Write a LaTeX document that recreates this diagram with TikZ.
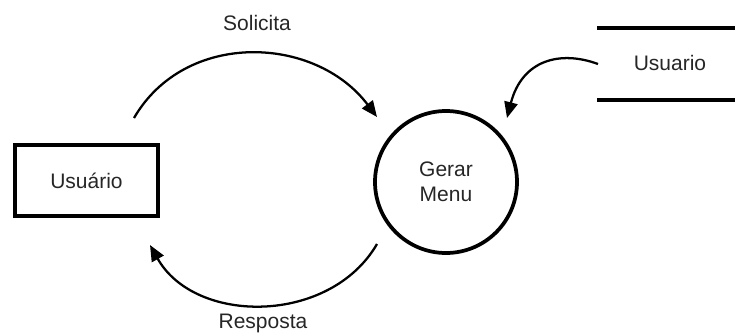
\documentclass[tikz,border=0pt]{standalone}
\usepackage{fontspec}
\setmainfont{Liberation Sans}
\usetikzlibrary{arrows.meta}
\begin{document}
\begin{tikzpicture}[x=0.75pt,y=-0.75pt,
  lbl/.style={text=black!85,font=\fontsize{15.75}{18.75}\selectfont,inner sep=0pt},
  entity/.style={draw,line width=3pt,minimum width=107.25pt,minimum height=53.25pt,inner sep=0pt},
  process/.style={draw,circle,line width=2.8pt,minimum size=106.5pt,inner sep=0pt,align=center},
  storeline/.style={line width=2.8pt},
  flow/.style={line width=1.7pt,-{Triangle[length=12pt,width=10pt]}}]
\useasboundingbox (0,0) rectangle (735,333);
% nodes
\node[entity,lbl] (user) at (86.5,180.5) {Usuário};
\node[process,lbl] (proc) at (446,182) {Gerar\\Menu};
\node[lbl] (store) at (670,63) {Usuario};
\coordinate (stTL) at (597,28);
\coordinate (stTR) at (735,28);
\coordinate (stBL) at (597,100);
\coordinate (stBR) at (735,100);
\draw[storeline] (stTL) -- (stTR);
\draw[storeline] (stBL) -- (stBR);
% flow endpoints
\coordinate (s1) at (134,118);
\coordinate (s2) at (377,117);
\coordinate (r1) at (377,244);
\coordinate (r2) at (150,245);
\coordinate (u1) at (598,64);
\coordinate (u2) at (507,118);
% flows
\draw[flow] (s1) .. controls (185,30) and (315,35) .. (s2);
\draw[flow] (r1) .. controls (330,325) and (195,325) .. (r2);
\draw[flow] (u1) .. controls (560,50) and (522,60) .. (u2);
% labels
\node[lbl] (lsol) at (257,23) {Solicita};
\node[lbl] (lres) at (263,323) {Resposta};
\end{tikzpicture}
\end{document}
